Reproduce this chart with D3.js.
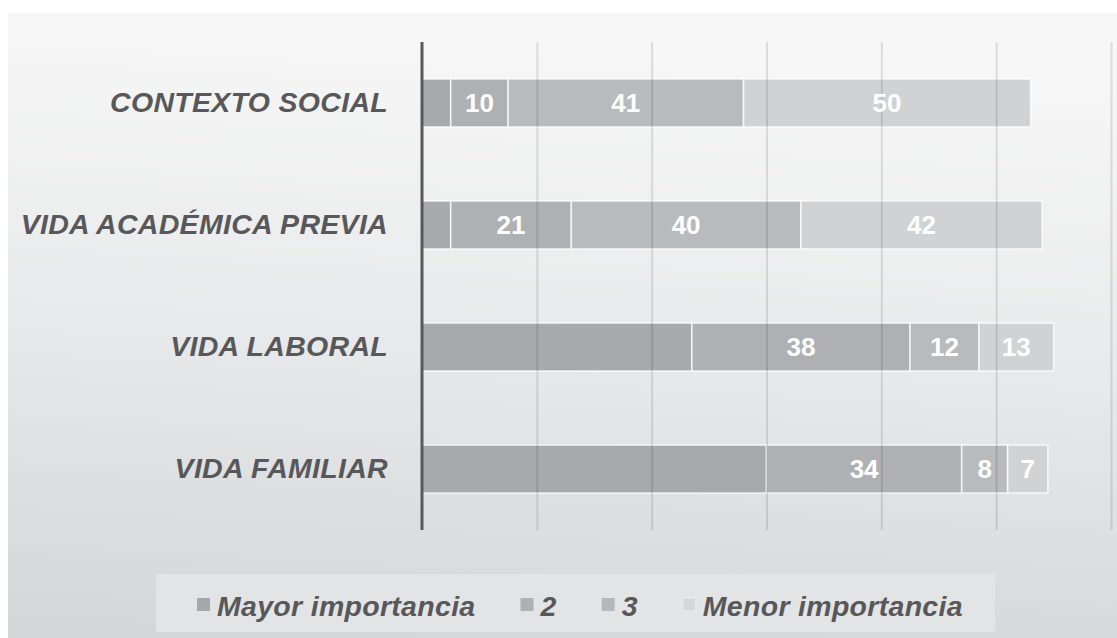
<!DOCTYPE html>
<html>
<head>
<meta charset="utf-8">
<script src="https://cdn.jsdelivr.net/npm/d3@7"></script>
<style>
  html, body { margin: 0; padding: 0; background: #ffffff; }
  svg { display: block; }
</style>
</head>
<body>
<svg id="chart" width="1117" height="638"></svg>
<script>
// ---- data ----
const categories = ["CONTEXTO SOCIAL", "VIDA ACADÉMICA PREVIA", "VIDA LABORAL", "VIDA FAMILIAR"];
const seriesNames = ["Mayor importancia", "2", "3", "Menor importancia"];
const mayorImportancia = [5, 5, 47, 60];
const importancia2 = [10, 21, 38, 34];
const importancia3 = [41, 40, 12, 8];
const menorImportancia = [50, 42, 13, 7];
const showLabels = [false, true, true, true];
const xTicks = [0, 20, 40, 60, 80, 100, 120];
const seriesColors = ["#a8a9ac", "#afb0b3", "#b9babd", "#d1d2d4"];

const seriesValues = [mayorImportancia, importancia2, importancia3, menorImportancia];
const rows = categories.map((c, i) => {
  const r = { cat: c };
  seriesNames.forEach((s, j) => r[s] = seriesValues[j][i]);
  return r;
});

const W = 1117, H = 638;
const svg = d3.select("#chart");
const defs = svg.append("defs");

// background gradient
const bg = defs.append("linearGradient").attr("id", "bgGrad")
  .attr("x1", "0.1").attr("y1", "0").attr("x2", "0").attr("y2", "1");
bg.append("stop").attr("offset", "0%").attr("stop-color", "#f7f7f7");
bg.append("stop").attr("offset", "50%").attr("stop-color", "#e8e9ea");
bg.append("stop").attr("offset", "100%").attr("stop-color", "#d4d5d7");

svg.append("rect").attr("x", 8).attr("y", 13).attr("width", W - 8).attr("height", H - 13)
  .attr("fill", "url(#bgGrad)");

// scales
const plot = { left: 422, right: 1111, top: 42, bottom: 530 };
const x = d3.scaleLinear().domain([0, 120]).range([plot.left, plot.right]);
const y = d3.scaleBand().domain(categories).range([plot.top, plot.bottom])
  .paddingInner(0.607).paddingOuter(0.303);

const stack = d3.stack().keys(seriesNames)(rows);

// bars
const gBars = svg.append("g");
stack.forEach((layer, si) => {
  gBars.selectAll(null).data(layer).enter().append("rect")
    .attr("x", d => x(d[0]))
    .attr("y", d => y(d.data.cat))
    .attr("width", d => x(d[1]) - x(d[0]))
    .attr("height", y.bandwidth())
    .attr("fill", seriesColors[si])
    .attr("stroke", "rgba(255,255,255,0.75)")
    .attr("stroke-width", 1.6);
});

// gridlines (drawn over bars, semi-transparent, darker toward bottom)
const gg = defs.append("linearGradient").attr("id", "gridGrad")
  .attr("gradientUnits", "userSpaceOnUse")
  .attr("x1", 0).attr("y1", plot.top).attr("x2", 0).attr("y2", plot.bottom);
gg.append("stop").attr("offset", "0%").attr("stop-color", "#000").attr("stop-opacity", 0.11);
gg.append("stop").attr("offset", "100%").attr("stop-color", "#000").attr("stop-opacity", 0.4);

const xAxis = d3.axisBottom(x).tickValues(xTicks.slice(1))
  .tickSize(-(plot.bottom - plot.top)).tickFormat("");
const gx = svg.append("g").attr("transform", `translate(0,${plot.bottom})`).call(xAxis);
gx.select(".domain").remove();
gx.selectAll(".tick line").attr("stroke", "url(#gridGrad)").attr("stroke-width", 2);

// value labels
stack.forEach((layer, si) => {
  if (!showLabels[si]) return;
  svg.append("g").selectAll("text").data(layer).enter().append("text")
    .attr("x", d => (x(d[0]) + x(d[1])) / 2)
    .attr("y", d => y(d.data.cat) + y.bandwidth() / 2)
    .attr("dy", "0.36em")
    .attr("text-anchor", "middle")
    .attr("font-family", "Liberation Sans, Arial, sans-serif")
    .attr("font-weight", "bold")
    .attr("font-size", 26)
    .attr("fill", "#ffffff")
    .text(d => d.data[seriesNames[si]]);
});

// y axis line + category labels
const yAxis = d3.axisLeft(y).tickSize(0).tickPadding(34);
const gy = svg.append("g").attr("transform", `translate(${plot.left},0)`).call(yAxis);
gy.select(".domain").remove();
gy.selectAll(".tick text")
  .attr("font-family", "Liberation Sans, Arial, sans-serif")
  .attr("font-weight", "bold")
  .attr("font-style", "italic")
  .attr("font-size", 28.5)
  .attr("letter-spacing", 0.3)
  .attr("fill", "#58585a");
svg.append("line")
  .attr("x1", x(0)).attr("x2", x(0))
  .attr("y1", plot.top).attr("y2", plot.bottom)
  .attr("stroke", "#59595b").attr("stroke-width", 3);

// legend
const legBox = { x: 156, y: 574, w: 839, h: 58 };
svg.append("rect").attr("x", legBox.x).attr("y", legBox.y)
  .attr("width", legBox.w).attr("height", legBox.h).attr("fill", "#e3e4e6");
const leg = svg.append("g");
let cx = 197;
const legendMarkerColors = ["#a6a7aa", "#afb0b3", "#b6b7ba", "#d6d7d9"];
seriesNames.forEach((name, i) => {
  leg.append("rect").attr("x", cx).attr("y", 598).attr("width", 13).attr("height", 13)
    .attr("fill", legendMarkerColors[i])
    .attr("stroke", i === 3 ? "#eeeeee" : "none").attr("stroke-width", 1);
  const t = leg.append("text").attr("x", cx + 20).attr("y", 616)
    .attr("font-family", "Liberation Sans, Arial, sans-serif")
    .attr("font-weight", "bold").attr("font-style", "italic")
    .attr("font-size", 28.5).attr("letter-spacing", 0.3).attr("fill", "#58585a")
    .text(name);
  cx = cx + 20 + t.node().getComputedTextLength() + 45;
});
</script>
</body>
</html>
